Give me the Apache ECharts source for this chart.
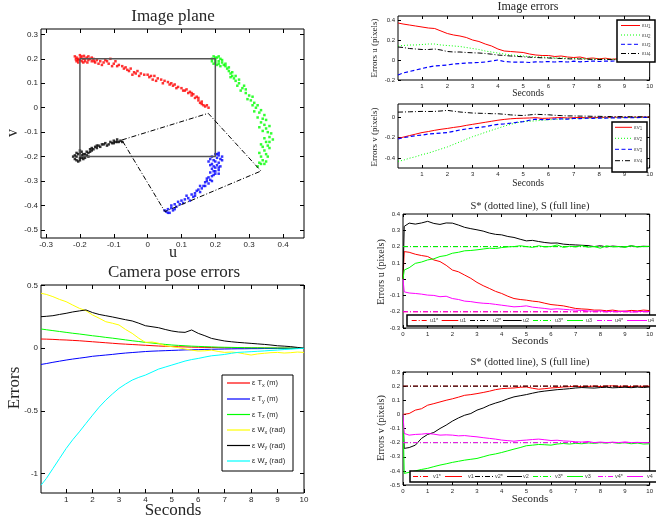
<!DOCTYPE html>
<html><head><meta charset="utf-8">
<script src="https://cdn.jsdelivr.net/npm/echarts@6/dist/echarts.min.js"></script>
<style>html,body{margin:0;padding:0;background:#fff}#c{width:656px;height:520px}</style>
</head><body><div id="c"></div>
<script>
// ---------- DATA ----------
// Image plane (u,v) point clouds
const redPts = [[-0.21,0.205],[-0.205,0.2],[-0.2,0.195],[-0.195,0.21],[-0.19,0.2],[-0.21,0.19],[-0.2,0.215],[-0.185,0.19],[-0.18,0.205],[-0.175,0.195],[-0.19,0.185],[-0.205,0.185],[-0.17,0.2],[-0.165,0.19],[-0.16,0.2],[-0.198,0.205],[-0.188,0.212],[-0.178,0.185],[-0.212,0.198],[-0.155,0.185],[-0.15,0.195],[-0.14,0.19],[-0.13,0.185],[-0.12,0.19],[-0.11,0.2],[-0.1,0.18],[-0.095,0.19],[-0.085,0.175],[-0.075,0.17],[-0.065,0.165],[-0.06,0.155],[-0.05,0.16],[-0.04,0.145],[-0.03,0.15],[-0.02,0.14],[-0.01,0.135],[0.0,0.135],[0.01,0.13],[0.02,0.13],[0.03,0.12],[0.04,0.115],[0.05,0.11],[0.06,0.105],[0.07,0.1],[0.08,0.095],[0.09,0.085],[0.1,0.08],[0.11,0.07],[0.12,0.06],[0.125,0.065],[0.13,0.05],[0.14,0.04],[0.145,0.045],[0.15,0.03],[0.155,0.02],[0.16,0.025],[0.165,0.01],[0.17,0.005],[0.18,0.0],[-0.135,0.175],[-0.105,0.17],[-0.045,0.135],[0.015,0.115],[0.075,0.09],[0.135,0.055],
  [-0.215,0.21],[-0.205,0.195],[-0.195,0.19],[-0.185,0.2],[-0.175,0.21],[-0.165,0.205],[-0.158,0.19],[-0.145,0.18],[-0.125,0.195],[-0.115,0.18],[-0.09,0.17],[-0.07,0.16],[-0.055,0.15],[-0.035,0.14],[-0.025,0.13],[0.005,0.125],[0.025,0.11],[0.045,0.1],[0.065,0.095],[0.085,0.08],[0.105,0.07],[0.115,0.075],[0.13,0.06],[0.15,0.04],[0.16,0.015],[0.175,0.01]];
const greenPts = [[0.19,0.2],[0.195,0.21],[0.2,0.195],[0.205,0.205],[0.21,0.19],[0.215,0.2],[0.2,0.185],[0.19,0.19],[0.22,0.185],[0.21,0.21],[0.225,0.175],[0.23,0.18],[0.205,0.175],[0.215,0.17],[0.195,0.18],[0.235,0.16],[0.24,0.15],[0.245,0.14],[0.25,0.13],[0.255,0.12],[0.245,0.125],[0.26,0.11],[0.27,0.1],[0.265,0.09],[0.28,0.08],[0.275,0.07],[0.29,0.06],[0.3,0.05],[0.295,0.035],[0.305,0.03],[0.31,0.01],[0.32,0.0],[0.315,-0.015],[0.33,-0.02],[0.325,-0.04],[0.34,-0.045],[0.335,-0.06],[0.345,-0.07],[0.35,-0.085],[0.34,-0.095],[0.355,-0.1],[0.36,-0.12],[0.345,-0.125],[0.35,-0.14],[0.355,-0.155],[0.34,-0.16],[0.345,-0.175],[0.35,-0.19],[0.335,-0.2],[0.34,-0.215],[0.33,-0.225],[0.345,-0.23],[0.325,-0.24],[0.36,-0.14],[0.33,-0.08],
  [0.2,0.205],[0.21,0.18],[0.22,0.195],[0.23,0.17],[0.24,0.165],[0.25,0.145],[0.26,0.13],[0.27,0.115],[0.285,0.09],[0.29,0.075],[0.31,0.045],[0.315,0.02],[0.325,0.01],[0.335,-0.01],[0.345,-0.03],[0.35,-0.05],[0.36,-0.075],[0.365,-0.105],[0.37,-0.13],[0.36,-0.165],[0.355,-0.2],[0.35,-0.22],[0.335,-0.23],[0.33,-0.185],[0.335,-0.15]];
const bluePts = [[0.2,-0.19],[0.21,-0.195],[0.19,-0.2],[0.205,-0.205],[0.215,-0.21],[0.195,-0.215],[0.2,-0.22],[0.21,-0.225],[0.185,-0.21],[0.22,-0.2],[0.19,-0.23],[0.205,-0.235],[0.215,-0.24],[0.18,-0.22],[0.2,-0.245],[0.19,-0.25],[0.21,-0.255],[0.195,-0.26],[0.185,-0.265],[0.2,-0.27],[0.19,-0.28],[0.18,-0.285],[0.175,-0.29],[0.19,-0.3],[0.17,-0.305],[0.18,-0.31],[0.165,-0.32],[0.16,-0.33],[0.15,-0.335],[0.155,-0.345],[0.14,-0.35],[0.13,-0.355],[0.135,-0.365],[0.12,-0.37],[0.11,-0.375],[0.1,-0.38],[0.105,-0.39],[0.09,-0.385],[0.08,-0.395],[0.085,-0.405],[0.07,-0.41],[0.075,-0.42],[0.06,-0.415],[0.055,-0.425],[0.065,-0.43],[0.21,-0.185],[0.195,-0.24],[0.175,-0.3],
  [0.205,-0.19],[0.22,-0.215],[0.185,-0.235],[0.21,-0.245],[0.2,-0.26],[0.21,-0.27],[0.195,-0.275],[0.185,-0.295],[0.17,-0.32],[0.155,-0.32],[0.145,-0.34],[0.14,-0.36],[0.125,-0.38],[0.115,-0.36],[0.095,-0.395],[0.07,-0.4],[0.06,-0.43],[0.08,-0.415],[0.05,-0.42]];
const blackPts = [[-0.21,-0.2],[-0.205,-0.19],[-0.2,-0.205],[-0.195,-0.195],[-0.215,-0.21],[-0.2,-0.215],[-0.19,-0.2],[-0.185,-0.19],[-0.21,-0.185],[-0.195,-0.18],[-0.18,-0.195],[-0.205,-0.22],[-0.19,-0.21],[-0.175,-0.185],[-0.17,-0.18],[-0.2,-0.175],[-0.165,-0.175],[-0.16,-0.17],[-0.155,-0.16],[-0.15,-0.165],[-0.145,-0.155],[-0.14,-0.16],[-0.13,-0.15],[-0.125,-0.145],[-0.12,-0.155],[-0.11,-0.14],[-0.105,-0.145],[-0.1,-0.135],[-0.095,-0.14],[-0.09,-0.13],[-0.085,-0.14],[-0.08,-0.135],[-0.215,-0.195],[-0.185,-0.205],[-0.17,-0.17],
  [-0.22,-0.2],[-0.21,-0.215],[-0.195,-0.205],[-0.2,-0.185],[-0.19,-0.19],[-0.18,-0.18],[-0.175,-0.2],[-0.165,-0.165],[-0.15,-0.155],[-0.135,-0.15],[-0.115,-0.15],[-0.1,-0.145],[-0.09,-0.14],[-0.075,-0.14]];
const desiredU = [-0.2,0.2,0.2,-0.2,-0.2];
const desiredV = [0.2,0.2,-0.2,-0.2,0.2];
const initU = [-0.076,0.179,0.335,0.051,-0.076];
const initV = [-0.132,-0.023,-0.259,-0.425,-0.132];

// time (seconds)
const T = [0.05,0.25,0.5,0.75,1,1.25,1.5,1.75,2,2.25,2.5,2.75,3,3.25,3.5,3.75,4,4.25,4.5,4.75,5,5.25,5.5,5.75,6,6.25,6.5,6.75,7,7.25,7.5,7.75,8,8.25,8.5,8.75,9,9.25,9.5,9.75,10];
const T0 = [0].concat(T);

// Image errors u
const eu1 = [0.37,0.36,0.35,0.34,0.33,0.32,0.315,0.29,0.265,0.25,0.24,0.225,0.2,0.185,0.16,0.14,0.11,0.09,0.085,0.08,0.075,0.06,0.05,0.045,0.045,0.035,0.04,0.03,0.025,0.03,0.015,0.02,0.012,0.018,0.008,0.012,0.006,0.01,0.004,0.008,0.005];
const eu2 = [0.14,0.145,0.15,0.15,0.155,0.16,0.16,0.15,0.145,0.14,0.135,0.125,0.115,0.105,0.09,0.08,0.07,0.06,0.05,0.045,0.04,0.035,0.03,0.03,0.025,0.02,0.02,0.018,0.015,0.015,0.012,0.01,0.01,0.008,0.008,0.006,0.005,0.005,0.004,0.003,0.003];
const eu3 = [-0.15,-0.13,-0.115,-0.1,-0.085,-0.07,-0.06,-0.055,-0.05,-0.04,-0.035,-0.03,-0.028,-0.025,-0.02,-0.01,0.0,-0.015,-0.02,-0.022,-0.02,-0.025,-0.018,-0.02,-0.015,-0.02,-0.015,-0.02,-0.012,-0.018,-0.015,-0.01,-0.015,-0.01,-0.012,-0.008,-0.005,-0.008,-0.004,-0.006,-0.003];
const eu4 = [0.13,0.125,0.115,0.11,0.105,0.105,0.11,0.1,0.085,0.08,0.08,0.075,0.072,0.07,0.065,0.058,0.05,0.045,0.04,0.036,0.032,0.028,0.025,0.022,0.02,0.018,0.015,0.012,0.01,0.01,0.008,0.006,0.005,0.005,0.004,0.003,0.003,0.002,0.002,0.001,0.001];
// Image errors v
const ev1 = [-0.207,-0.195,-0.18,-0.165,-0.15,-0.14,-0.128,-0.118,-0.11,-0.1,-0.092,-0.08,-0.07,-0.06,-0.05,-0.04,-0.03,-0.022,-0.016,-0.012,-0.01,-0.008,-0.005,-0.012,-0.01,-0.006,-0.004,-0.008,-0.005,-0.003,-0.006,-0.002,-0.004,-0.001,-0.003,0.0,-0.002,0.0,-0.001,0.001,0.0];
const ev2 = [-0.43,-0.42,-0.4,-0.385,-0.365,-0.35,-0.33,-0.31,-0.29,-0.265,-0.24,-0.215,-0.19,-0.17,-0.148,-0.128,-0.108,-0.088,-0.07,-0.055,-0.043,-0.04,-0.036,-0.03,-0.026,-0.022,-0.02,-0.016,-0.014,-0.012,-0.01,-0.009,-0.008,-0.007,-0.006,-0.005,-0.004,-0.003,-0.003,-0.002,-0.002];
const ev3 = [-0.213,-0.2,-0.19,-0.18,-0.174,-0.165,-0.16,-0.155,-0.15,-0.138,-0.125,-0.115,-0.108,-0.1,-0.092,-0.08,-0.07,-0.065,-0.059,-0.05,-0.043,-0.03,-0.02,-0.025,-0.023,-0.018,-0.016,-0.02,-0.012,-0.015,-0.01,-0.012,-0.008,-0.01,-0.006,-0.008,-0.005,-0.006,-0.004,-0.003,-0.003];
const ev4 = [0.049,0.05,0.052,0.054,0.056,0.055,0.056,0.06,0.066,0.058,0.05,0.045,0.04,0.038,0.036,0.034,0.033,0.028,0.022,0.018,0.016,0.022,0.028,0.025,0.023,0.018,0.015,0.012,0.012,0.01,0.01,0.008,0.008,0.006,0.006,0.005,0.005,0.004,0.004,0.003,0.003];
// S (full) and S* (dotted) u
const u1 = [0,0.169,0.165,0.153,0.145,0.139,0.118,0.108,0.085,0.056,0.045,0.025,0.005,-0.02,-0.04,-0.057,-0.075,-0.088,-0.105,-0.119,-0.125,-0.129,-0.135,-0.139,-0.148,-0.156,-0.16,-0.164,-0.172,-0.18,-0.183,-0.185,-0.19,-0.19,-0.194,-0.19,-0.196,-0.197,-0.192,-0.195,-0.19,-0.193];
const u2 = [0,0.324,0.344,0.338,0.345,0.355,0.342,0.336,0.345,0.344,0.332,0.318,0.31,0.303,0.295,0.283,0.275,0.272,0.262,0.256,0.245,0.235,0.238,0.231,0.225,0.221,0.222,0.215,0.212,0.21,0.208,0.206,0.2,0.205,0.198,0.203,0.2,0.198,0.204,0.199,0.202,0.2];
const u3 = [0,0.056,0.07,0.097,0.105,0.118,0.125,0.139,0.145,0.159,0.165,0.174,0.176,0.18,0.185,0.19,0.188,0.194,0.198,0.2,0.205,0.2,0.195,0.205,0.198,0.2,0.21,0.195,0.202,0.198,0.206,0.196,0.2,0.19,0.205,0.198,0.2,0.196,0.205,0.198,0.2,0.202];
const u4 = [0,-0.078,-0.085,-0.088,-0.092,-0.098,-0.1,-0.108,-0.105,-0.119,-0.125,-0.135,-0.138,-0.144,-0.148,-0.15,-0.155,-0.16,-0.165,-0.17,-0.168,-0.164,-0.172,-0.176,-0.18,-0.185,-0.182,-0.185,-0.188,-0.19,-0.192,-0.195,-0.197,-0.195,-0.2,-0.198,-0.2,-0.196,-0.202,-0.2,-0.198,-0.2];
const uStar = [-0.2,0.2,0.2,-0.2];
// S (full) and S* (dotted) v
const v1 = [0,0.0,0.006,0.03,0.04,0.065,0.076,0.088,0.1,0.11,0.122,0.135,0.14,0.147,0.155,0.164,0.175,0.182,0.185,0.187,0.192,0.194,0.185,0.178,0.182,0.187,0.19,0.194,0.196,0.2,0.196,0.198,0.2,0.197,0.2,0.202,0.198,0.2,0.196,0.2,0.198,0.2];
const v2 = [0,-0.241,-0.235,-0.218,-0.17,-0.142,-0.128,-0.1,-0.076,-0.048,-0.025,-0.006,0.006,0.03,0.045,0.065,0.08,0.093,0.11,0.124,0.132,0.14,0.15,0.159,0.165,0.17,0.175,0.178,0.182,0.187,0.19,0.188,0.186,0.19,0.192,0.188,0.19,0.192,0.189,0.193,0.19,0.194];
const v3 = [0,-0.418,-0.41,-0.4,-0.39,-0.382,-0.37,-0.359,-0.35,-0.34,-0.332,-0.324,-0.318,-0.312,-0.3,-0.288,-0.28,-0.27,-0.258,-0.246,-0.235,-0.222,-0.218,-0.213,-0.215,-0.218,-0.21,-0.206,-0.21,-0.205,-0.208,-0.202,-0.205,-0.2,-0.203,-0.198,-0.205,-0.2,-0.208,-0.203,-0.21,-0.208];
const v4 = [0,-0.135,-0.147,-0.142,-0.14,-0.135,-0.14,-0.147,-0.145,-0.147,-0.152,-0.15,-0.155,-0.159,-0.165,-0.17,-0.175,-0.182,-0.186,-0.19,-0.185,-0.182,-0.178,-0.175,-0.18,-0.185,-0.183,-0.188,-0.19,-0.194,-0.196,-0.192,-0.2,-0.196,-0.2,-0.197,-0.2,-0.195,-0.2,-0.198,-0.2,-0.2];
const vStar = [0.2,0.2,-0.2,-0.2];
// Camera pose errors
const eTx = [0.074,0.073,0.071,0.068,0.066,0.063,0.06,0.056,0.052,0.048,0.044,0.04,0.036,0.033,0.03,0.027,0.024,0.021,0.018,0.016,0.014,0.012,0.011,0.009,0.008,0.007,0.006,0.005,0.004,0.004,0.003,0.003,0.002,0.002,0.002,0.001,0.001,0.001,0.001,0.0,0.0];
const eTy = [-0.129,-0.122,-0.112,-0.103,-0.094,-0.086,-0.079,-0.072,-0.064,-0.059,-0.054,-0.049,-0.043,-0.038,-0.034,-0.03,-0.026,-0.023,-0.021,-0.019,-0.017,-0.015,-0.013,-0.012,-0.011,-0.009,-0.008,-0.007,-0.006,-0.005,-0.004,-0.004,-0.003,-0.003,-0.002,-0.002,-0.001,-0.001,-0.001,0,0];
const eTz = [0.154,0.148,0.141,0.134,0.127,0.12,0.114,0.107,0.1,0.094,0.087,0.081,0.074,0.067,0.06,0.054,0.047,0.042,0.036,0.031,0.026,0.023,0.02,0.017,0.015,0.013,0.011,0.009,0.008,0.007,0.006,0.005,0.004,0.004,0.003,0.003,0.002,0.002,0.001,0.001,0.0];
const eWx = [0.439,0.43,0.412,0.39,0.372,0.345,0.319,0.3,0.266,0.24,0.212,0.2,0.186,0.15,0.119,0.08,0.047,0.05,0.04,0.02,0.013,0.005,-0.006,-0.015,-0.022,-0.02,-0.015,-0.025,-0.033,-0.03,-0.035,-0.045,-0.054,-0.045,-0.04,-0.035,-0.033,-0.038,-0.035,-0.03,-0.033];
const eWy = [0.252,0.255,0.26,0.27,0.279,0.29,0.298,0.306,0.285,0.27,0.26,0.25,0.239,0.228,0.218,0.2,0.18,0.172,0.164,0.15,0.138,0.13,0.127,0.146,0.119,0.1,0.079,0.068,0.058,0.052,0.047,0.043,0.039,0.035,0.031,0.026,0.02,0.017,0.013,0.007,0.0];
const eWz = [-1.093,-1.04,-0.96,-0.88,-0.8,-0.73,-0.667,-0.6,-0.534,-0.47,-0.414,-0.365,-0.32,-0.285,-0.254,-0.232,-0.214,-0.19,-0.166,-0.15,-0.134,-0.118,-0.102,-0.09,-0.081,-0.07,-0.06,-0.055,-0.049,-0.04,-0.033,-0.03,-0.027,-0.024,-0.021,-0.017,-0.014,-0.01,-0.007,-0.003,0.0];

// tick labels
const ticksU = [-0.3,-0.2,-0.1,0,0.1,0.2,0.3,0.4];
const ticksV = [-0.5,-0.4,-0.3,-0.2,-0.1,0,0.1,0.2,0.3];
const ticksSec1 = [1,2,3,4,5,6,7,8,9,10];
const ticksSec0 = [0,1,2,3,4,5,6,7,8,9,10];
const ticksPose = [-1,-0.5,0,0.5];
const ticksEu = [-0.2,0,0.2,0.4];
const ticksEv = [-0.4,-0.2,0];
const ticksSu = [-0.3,-0.2,-0.1,0,0.1,0.2,0.3,0.4];
const ticksSv = [-0.5,-0.4,-0.3,-0.2,-0.1,0,0.1,0.2,0.3];

// ---------- CHART ----------
const SERIF = 'Liberation Serif';
const SANS = 'Liberation Sans';
const pairs = (t, a) => t.map((x, i) => [x, a[i]]);
const zip = (a, b) => a.map((x, i) => [x, b[i]]);

const grids = [
  {left:41, top:29, width:263, height:209},
  {left:41, top:285, width:263, height:208},
  {left:398, top:16, width:260, height:64},
  {left:398, top:104, width:260, height:64},
  {left:403, top:214, width:254, height:114},
  {left:403, top:372, width:254, height:113}
].map(g => Object.assign(g, {show:true, borderColor:'#000', borderWidth:1, backgroundColor:'#fff', containLabel:false}));

const ranges = [
  {x:[-0.315,0.462], y:[-0.533,0.322], xt:ticksU, yt:ticksV, fs:8, tl:4},
  {x:[0.05,10], y:[-1.155,0.505], xt:ticksSec1, yt:ticksPose, fs:8, tl:4},
  {x:[0.05,10], y:[-0.2,0.44], xt:ticksSec1, yt:ticksEu, fs:6, tl:3},
  {x:[0.05,10], y:[-0.495,0.128], xt:ticksSec1, yt:ticksEv, fs:6, tl:3},
  {x:[0,10], y:[-0.3,0.4], xt:ticksSec0, yt:ticksSu, fs:6, tl:3},
  {x:[0,10], y:[-0.5,0.3], xt:ticksSec0, yt:ticksSv, fs:6, tl:3}
];
const xAxes = [], yAxes = [];
function mkAxis(g, r, dim, secondary) {
  const isX = dim === 'x';
  const ticks = isX ? r.xt : r.yt;
  return {
    type:'value', gridIndex:g, min:r[dim][0], max:r[dim][1],
    position: isX ? (secondary ? 'top' : 'bottom') : (secondary ? 'right' : 'left'),
    axisLine:{show:false, onZero:false}, splitLine:{show:false},
    axisTick:{show:true, inside:true, length:r.tl, customValues:ticks, lineStyle:{color:'#000', width:1}},
    axisLabel:{show:!secondary, customValues:ticks, fontSize:r.fs, color:'#262626', fontFamily:SANS, margin:3,
      formatter: v => String(Math.round(v*10)/10)}
  };
}
ranges.forEach((r, g) => { xAxes.push(mkAxis(g, r, 'x', false)); yAxes.push(mkAxis(g, r, 'y', false)); });
ranges.forEach((r, g) => { xAxes.push(mkAxis(g, r, 'x', true)); yAxes.push(mkAxis(g, r, 'y', true)); });

const DOT = [1,2], DASH = [4,2.5], DASHDOT = [5,2,1,2];
function ln(g, data, color, type, w) {
  return {type:'line', xAxisIndex:g, yAxisIndex:g, data, symbol:'none', silent:true,
    lineStyle:{color, width:w||1, type:type||'solid'}, itemStyle:{color}};
}
function sc(data, color) {
  return {type:'scatter', xAxisIndex:0, yAxisIndex:0, data, symbol:'rect', symbolSize:2.5, silent:true,
    itemStyle:{color}};
}
const tEnds = [T0[0], T0[T0.length-1]];
const star = (v) => tEnds.map(t => [t, v]);

const series = [
  ln(0, zip(desiredU, desiredV), '#555', 'solid', 1.5),
  ln(0, zip(initU, initV), '#000', DASHDOT, 1),
  sc(redPts, '#ff0000'), sc(greenPts, '#00ff00'), sc(bluePts, '#0000ff'), sc(blackPts, '#000000'),

  ln(1, pairs(T, eTx), '#ff0000'), ln(1, pairs(T, eTy), '#0000ff'), ln(1, pairs(T, eTz), '#00ff00'),
  ln(1, pairs(T, eWx), '#ffff00'), ln(1, pairs(T, eWy), '#000000'), ln(1, pairs(T, eWz), '#00ffff'),

  ln(2, pairs(T, eu1), '#ff0000'), ln(2, pairs(T, eu2), '#00ff00', DOT), ln(2, pairs(T, eu3), '#0000ff', DASH, 1.2), ln(2, pairs(T, eu4), '#000000', DASHDOT),
  ln(3, pairs(T, ev1), '#ff0000'), ln(3, pairs(T, ev2), '#00ff00', DOT), ln(3, pairs(T, ev3), '#0000ff', DASH, 1.2), ln(3, pairs(T, ev4), '#000000', DASHDOT),

  ln(4, star(uStar[0]), '#ff0000', DASHDOT), ln(4, pairs(T0, u1), '#ff0000'),
  ln(4, star(uStar[1]), '#000000', DASHDOT), ln(4, pairs(T0, u2), '#000000'),
  ln(4, star(uStar[2]), '#00ff00', DASHDOT), ln(4, pairs(T0, u3), '#00ff00'),
  ln(4, star(uStar[3]), '#ff00ff', DASHDOT), ln(4, pairs(T0, u4), '#ff00ff'),

  ln(5, star(vStar[0]), '#ff0000', DASHDOT), ln(5, pairs(T0, v1), '#ff0000'),
  ln(5, star(vStar[1]), '#000000', DASHDOT), ln(5, pairs(T0, v2), '#000000'),
  ln(5, star(vStar[2]), '#00ff00', DASHDOT), ln(5, pairs(T0, v3), '#00ff00'),
  ln(5, star(vStar[3]), '#ff00ff', DASHDOT), ln(5, pairs(T0, v4), '#ff00ff')
];

// ---------- TEXT / LEGENDS (graphic) ----------
const G = [];
function txt(x, y, text, size, family, opt) {
  opt = opt || {};
  const el = {type:'text', x, y, rotation: opt.rot || 0, z:100, silent:true,
    style:{x:0, y:0, text, fontSize:size, fontFamily:family, fill: opt.color || '#262626',
      align: opt.align || 'center', verticalAlign:'middle', textAlign: opt.align || 'center', textVerticalAlign:'middle', rich: opt.rich}};
  G.push(el);
}
function box(x, y, w, h, lw) {
  G.push({type:'rect', shape:{x, y, width:w, height:h}, z:90, silent:true, style:{fill:'#fff', stroke:'#000', lineWidth:lw||1}});
}
function seg(x1, x2, y, color, dash, w) {
  G.push({type:'line', shape:{x1, y1:y, x2, y2:y}, z:95, silent:true, style:{stroke:color, lineWidth:w||1, lineDash: dash || null}});
}
// titles and labels, left column
txt(173, 17, 'Image plane', 17, SERIF);
txt(173, 253, 'u', 16, SERIF);
txt(13, 133, 'v', 16, SERIF, {rot: Math.PI/2});
txt(174, 273, 'Camera pose errors', 17, SERIF);
txt(15, 388, 'Errors', 17, SERIF, {rot: Math.PI/2});
txt(173, 511, 'Seconds', 17, SERIF);
// right column
txt(528, 7, 'Image errors', 12, SERIF);
txt(375, 48, 'Errors u (pixels)', 9, SERIF, {rot: Math.PI/2});
txt(528, 93, 'Seconds', 9.5, SERIF);
txt(375, 137, 'Errors v (pixels)', 9, SERIF, {rot: Math.PI/2});
txt(528, 183, 'Seconds', 9.5, SERIF);
txt(530, 206, 'S* (dotted line), S (full line)', 10.5, SERIF);
txt(381, 272, 'Errors u (pixels)', 10, SERIF, {rot: Math.PI/2});
txt(530, 341, 'Seconds', 11, SERIF);
txt(530, 362, 'S* (dotted line), S (full line)', 10.5, SERIF);
txt(381, 428, 'Errors v (pixels)', 10, SERIF, {rot: Math.PI/2});
txt(530, 499, 'Seconds', 11, SERIF);

// pose legend
const poseLeg = [
  ['T','x','(m)','#ff0000'], ['T','y','(m)','#0000ff'], ['T','z','(m)','#00ff00'],
  ['W','x','(rad)','#ffff00'], ['W','y','(rad)','#000000'], ['W','z','(rad)','#00ffff']
];
box(222, 375, 71, 96, 1);
const poseY = [383, 399, 414.5, 430, 445.5, 461];
const richPose = {a:{fontSize:7.5, fontFamily:SANS, fill:'#262626', lineHeight:10}, s:{fontSize:5.5, fontFamily:SANS, fill:'#262626', verticalAlign:'bottom', lineHeight:5}};
poseLeg.forEach((e, i) => {
  seg(227, 250, poseY[i], e[3], null, 1.2);
  txt(252, poseY[i], '{a|ε ' + e[0] + '}{s|' + e[1] + '}{a| ' + e[2] + '}', 7.5, SANS, {align:'left', rich:richPose});
});
// image errors legends
const richSmall = {a:{fontSize:6, fontFamily:SANS, fill:'#555', lineHeight:8}, s:{fontSize:4.5, fontFamily:SANS, fill:'#555', verticalAlign:'bottom', lineHeight:4}};
const legU = [['u','1','#ff0000',null],['u','2','#00ff00',DOT],['u','3','#0000ff',DASH],['u','4','#000000',DASHDOT]];
box(617, 20, 38, 42, 1.5);
[25.5, 35, 44.3, 53.5].forEach((y, i) => {
  seg(621, 640, y, legU[i][2], legU[i][3], 1);
  txt(642, y, '{a|ε' + legU[i][0] + '}{s|' + legU[i][1] + '}', 6, SANS, {align:'left', rich:richSmall});
});
const legV = [['v','1','#ff0000',null],['v','2','#00ff00',DOT],['v','3','#0000ff',DASH],['v','4','#000000',DASHDOT]];
box(612, 122, 35, 50, 1.5);
[127.3, 138.3, 149.3, 160.7].forEach((y, i) => {
  seg(615, 632, y, legV[i][2], legV[i][3], 1);
  txt(634, y, '{a|ε' + legV[i][0] + '}{s|' + legV[i][1] + '}', 6, SANS, {align:'left', rich:richSmall});
});
// S legends
const sNames = ['1*','1','2*','2','3*','3','4*','4'];
const sCols = ['#ff0000','#ff0000','#000000','#000000','#00ff00','#00ff00','#ff00ff','#ff00ff'];
const sLines3 = [[411.7,426.7,430],[441.7,458.3,460],[470,490,493],[503,521.7,523],[533,552,555],[567,583,586],[597,613,615],[627,647,648]];
const sLines4 = [[413,428,433],[445,462,468],[475,493,495],[507,522,523],[533,553,555],[567,583,585],[598,613,615],[627,643,647]];
box(407, 315, 252, 11, 1.5);
sLines3.forEach((p, i) => {
  seg(p[0], p[1], 320.5, sCols[i], i % 2 === 0 ? DASHDOT : null, 1);
  txt(p[2], 320.5, 'u' + sNames[i], 5.5, SANS, {align:'left', color:'#444'});
});
box(410, 471, 249, 11, 1.5);
sLines4.forEach((p, i) => {
  seg(p[0], p[1], 476.5, sCols[i], i % 2 === 0 ? DASHDOT : null, 1);
  txt(p[2], 476.5, 'v' + sNames[i], 5.5, SANS, {align:'left', color:'#444'});
});

const chart = echarts.init(document.getElementById('c'), null, {renderer:'canvas'});
chart.setOption({
  animation:false,
  backgroundColor:'#fff',
  grid: grids,
  xAxis: xAxes,
  yAxis: yAxes,
  series: series,
  graphic: {elements: G}
});
</script></body></html>
